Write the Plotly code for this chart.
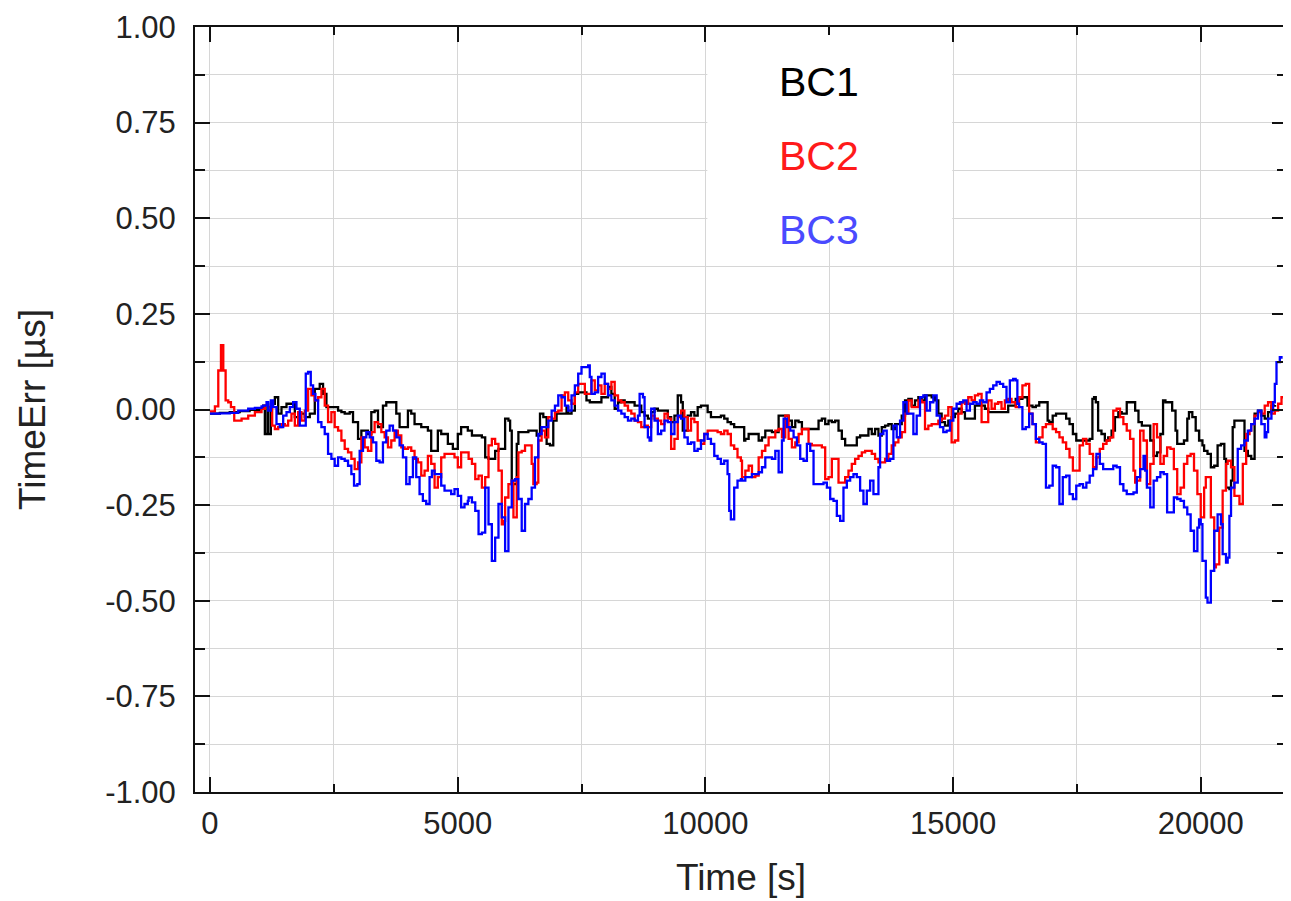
import plotly.graph_objects as go

# ---------------- data ----------------
bc1_t = [0, 200, 400, 600, 800, 1000, 1075, 1108, 1160, 1175, 1229, 1310, 1377, 1444, 1545, 1713, 1780, 1914, 2015,
         2116, 2216, 2283, 2351, 2518, 2586, 2653, 2720, 2821, 2888, 2989, 3056, 3190, 3257, 3324, 3392, 3492, 3559,
         3761, 3828, 3996, 4063, 4130, 4265, 4399, 4466, 4600, 4668, 4802, 4903, 5003, 5070, 5205,
         5288, 5489, 5556, 5623, 5757, 5824, 5958, 6025, 6059, 6092, 6193, 6226, 6427, 6595, 6662, 6729, 6796, 6863,
         6930, 6997, 7198, 7232, 7299, 7366, 7433, 7600, 7667, 7902, 8036, 8103, 8170, 8237, 8304, 8371, 8572, 8706,
         8773, 8840, 8907, 8974, 9041, 9242, 9309, 9376, 9443, 9510, 9544, 9644, 9711, 9778, 9845, 9912, 10046, 10113,
         10314, 10381, 10448, 10515, 10582, 10784,
         10807, 10874, 11076, 11143, 11210, 11344, 11479, 11680, 11747, 11815, 11882, 11949, 12285, 12352, 12419, 12486,
         12553, 12620, 12688, 12755, 12822, 13057, 13124, 13292, 13359, 13426, 13494, 13561, 13628, 13695, 13762, 13829,
         13964, 14031, 14098, 14165, 14232, 14300, 14367, 14434, 14568, 14635, 14703, 14770, 14837, 14904, 14971, 15038,
         15105, 15173, 15240, 15441, 15643, 15710, 16113,
         16264, 16400, 16502, 16604, 16672, 16740, 16909, 16943, 17011, 17079, 17283, 17351, 17419, 17487, 17758, 17813,
         17847, 17881, 17928, 17996, 18064, 18132, 18200, 18268, 18336, 18404, 18506, 18676, 18743, 18811, 18981, 19049,
         19117, 19185, 19239, 19287, 19423, 19491, 19525, 19661, 19728, 19762, 19830, 19898, 19966, 20034, 20068, 20136,
         20204, 20272, 20340, 20408, 20476, 20510, 20578, 20611, 20645, 20679, 20883, 20951, 21019, 21087, 21155, 21223,
         21291, 21359, 21427, 21500]
bc1_v = [-0.011, -0.009, -0.007, -0.004, -0.001, 0.003, 0.010, -0.064, 0.005, -0.064, 0.015, 0.032, -0.011, 0.006,
         0.015, -0.020, -0.011, -0.020, -0.011, 0.054, 0.067, 0.041, 0.006, 0.006, -0.003, -0.007, -0.011, -0.007,
         -0.033, -0.077, -0.055, -0.064, -0.007, -0.003, -0.046, 0.010, 0.019, -0.011, -0.046, -0.003, -0.011, -0.038,
         -0.046, -0.055, -0.108, -0.055, -0.064, -0.090, -0.103, -0.064, -0.046, -0.055,
         -0.068, -0.073, -0.125, -0.129, -0.108, -0.103, -0.024, -0.029, -0.055, -0.195, -0.090, -0.059, -0.055, -0.068,
         -0.011, -0.020, -0.090, -0.094, -0.029, -0.011, 0.006, -0.011, -0.003, 0.041, 0.045, 0.024, 0.019, 0.032,
         0.059, 0.041, 0.002, 0.019, 0.024, 0.019, 0.010, -0.007, -0.016, -0.024, -0.007, 0.002, -0.003, -0.020,
         -0.033, -0.016, 0.037, 0.019, -0.055, -0.016, -0.007, -0.016, 0.006, 0.010, -0.007, -0.020, -0.016, -0.024,
         -0.033, -0.038, -0.046, -0.081,
         -0.077, -0.064, -0.081, -0.073, -0.055, -0.059, -0.016, -0.029, -0.046, -0.029, -0.033, -0.051, -0.029, -0.024,
         -0.038, -0.029, -0.033, -0.029, -0.055, -0.077, -0.094, -0.073, -0.068, -0.051, -0.064, -0.051, -0.068, -0.046,
         -0.042, -0.038, -0.051, -0.038, -0.016, 0.024, 0.028, 0.010, 0.024, 0.032, 0.024, 0.037, 0.032, 0.024, -0.011,
         -0.033, -0.042, -0.029, -0.020, -0.011, 0.002, -0.007, -0.024, 0.010, 0.002, -0.007, 0.010,
         0.028, 0.032, 0.010, 0.006, 0.010, 0.019, -0.029, -0.033, -0.016, -0.011, -0.024, -0.038, -0.064, -0.081,
         -0.077, 0.028, 0.032, 0.019, -0.055, -0.064, -0.081, -0.073, -0.055, -0.020, -0.007, -0.011, 0.019, -0.003,
         -0.033, -0.042, -0.081, -0.121, -0.112, -0.064, 0.024, 0.019, -0.003, -0.055, -0.090, -0.081, -0.024, -0.007,
         -0.020, -0.055, -0.081, -0.094, -0.108, -0.116, -0.151, -0.147, -0.094, -0.090, -0.129, -0.204, -0.208,
         -0.186, -0.046, -0.029, -0.108, -0.121, -0.129, -0.011, -0.003, -0.016, -0.024, -0.007, 0.010, 0.012]

bc2_t = [0, 100, 168, 222, 269, 316, 369, 423, 490, 571, 638, 772, 907, 1041, 1108, 1175, 1256, 1310, 1377, 1444,
         1511, 1578, 1645, 1713, 1780, 1847, 1914, 1981, 2048, 2116, 2183, 2250, 2317, 2384, 2451, 2518, 2586, 2653,
         2720, 2787, 2854, 2921, 2989, 3056, 3123, 3190, 3257, 3324, 3392, 3459, 3526, 3593, 3660, 3727, 3794, 3862,
         3929, 3996, 4063, 4130, 4197, 4265, 4332, 4399, 4466, 4534, 4600, 4668, 4735, 4869, 4936, 5003, 5070, 5171,
         5221, 5288, 5355, 5422, 5489, 5556, 5623, 5690, 5757, 5824, 5891, 5925, 5958, 6025, 6092, 6126, 6159, 6193,
         6226, 6293, 6360, 6494, 6528, 6595, 6628, 6695, 6762, 6829, 6897, 6964, 7031, 7098, 7165, 7232, 7299, 7366,
         7433, 7567, 7634, 7701, 7768, 7835, 7902, 7969, 8036, 8103, 8170, 8237, 8304, 8371, 8438, 8505, 8572, 8639,
         8706, 8773, 8840, 8907, 8974, 9041, 9108, 9175, 9242, 9309, 9376, 9443, 9510, 9577, 9644, 9711, 9778, 9845,
         9912, 9979, 10046, 10247, 10314, 10381, 10448, 10515, 10582, 10649, 10717,
         10740, 10807, 10874, 10941, 11009, 11076, 11143, 11210, 11277, 11412, 11479, 11546, 11613, 11680, 11747, 11815,
         11882, 11949, 12083, 12150, 12352, 12419, 12486, 12553, 12688, 12822, 12889, 12956, 13023, 13091, 13158, 13225,
         13359, 13426, 13494, 13628, 13695, 13762, 13829, 13897, 13964, 14031, 14098, 14165, 14300, 14367, 14434, 14501,
         14568, 14703, 14770, 14837, 14904, 14971, 15038, 15105, 15173, 15240, 15307, 15374, 15441, 15508, 15576, 15643,
         15710, 15777, 15844, 15911, 15978, 16046, 16113, 16180,
         16264, 16332, 16400, 16468, 16536, 16604, 16672, 16740, 16807, 16875, 17011, 17079, 17147, 17215, 17283, 17351,
         17419, 17555, 17623, 17691, 17758, 17826, 17894, 17962, 18030, 18098, 18166, 18234, 18302, 18370, 18438, 18506,
         18574, 18642, 18676, 18709, 18777, 18845, 18913, 18981, 19049, 19117, 19185, 19253, 19321, 19389, 19457, 19525,
         19593, 19661, 19728, 19796, 19864, 19932, 20000, 20068, 20102, 20170, 20204, 20272, 20306, 20374, 20442, 20510,
         20544, 20611, 20679, 20781, 20849, 20917, 20985, 21019, 21087, 21155, 21223, 21291, 21359, 21427, 21495, 21562,
         21630, 21700]
bc2_v = [-0.005, 0.008, 0.102, 0.168, 0.102, 0.024, 0.019, 0.006, -0.029, -0.029, -0.024, -0.016, -0.007, 0.002, 0.010,
         0.006, -0.042, -0.051, -0.046, -0.038, -0.042, -0.029, -0.011, -0.042, -0.007, -0.029, -0.003, 0.054, 0.037,
         0.024, 0.032, 0.054, 0.010, -0.033, -0.007, -0.046, -0.055, -0.081, -0.103, -0.112, -0.129, -0.156, -0.138,
         -0.073, -0.099, -0.108, -0.059, -0.033, -0.038, -0.059, -0.073, -0.099, -0.081, -0.055, -0.068, -0.099, -0.103,
         -0.099, -0.108, -0.129, -0.138, -0.173, -0.160, -0.121, -0.142, -0.204, -0.177, -0.125, -0.116, -0.116, -0.125,
         -0.151, -0.112, -0.112,
         -0.129, -0.142, -0.182, -0.173, -0.204, -0.177, -0.094, -0.077, -0.090, -0.160, -0.300, -0.291, -0.230, -0.195,
         -0.186, -0.282, -0.282, -0.177, -0.112, -0.108, -0.094, -0.142, -0.195, -0.191, -0.081, -0.055, -0.073, -0.020,
         -0.024, -0.007, -0.003, 0.037, 0.045, 0.024, 0.015, 0.045, 0.067, 0.041, 0.041, 0.076, 0.050, 0.063, 0.041,
         0.067, 0.054, 0.072, 0.037, 0.024, 0.019, 0.010, -0.003, -0.011, -0.029, -0.033, -0.046, -0.042, -0.046,
         -0.016, -0.024, -0.029, -0.038, -0.011, -0.024, -0.103, -0.077, -0.020, -0.003, -0.020, -0.055, -0.024, -0.033,
         -0.081, -0.090, -0.064, -0.055, -0.059, -0.064, -0.055, -0.064, -0.094, -0.103, -0.125, -0.134,
         -0.177, -0.160, -0.147, -0.177, -0.173, -0.125, -0.108, -0.094, -0.073, -0.055, -0.051, -0.073, -0.016, -0.077,
         -0.099, -0.086, -0.064, -0.051, -0.090, -0.094, -0.099, -0.182, -0.177, -0.129, -0.191, -0.177, -0.160, -0.142,
         -0.129, -0.121, -0.112, -0.108, -0.116, -0.129, -0.138, -0.129, -0.116, -0.094, -0.086, -0.073, -0.059, -0.011,
         0.024, 0.006, 0.024, 0.019, -0.051, -0.042, -0.038, -0.029, -0.024, -0.016, 0.006, -0.086, -0.081, -0.011,
         0.019, 0.015, 0.032, 0.024, 0.037, 0.041, -0.033, -0.033, 0.024, 0.002, 0.015, 0.019, 0.002, 0.024, 0.028,
         0.019,
         0.006, 0.032, 0.063, 0.067, -0.011, -0.038, -0.086, -0.073, -0.046, -0.038, -0.051, -0.059, -0.073, -0.086,
         -0.103, -0.125, -0.160, -0.094, -0.077, -0.090, -0.116, -0.151, -0.125, -0.103, -0.090, -0.081, -0.073, -0.003,
         0.002, -0.020, -0.038, -0.055, -0.077, -0.160, -0.191, -0.186, -0.055, -0.081, -0.195, -0.142, -0.038, -0.073,
         -0.142, -0.121, -0.099, -0.103, -0.156, -0.221, -0.204, -0.142, -0.121, -0.116, -0.160, -0.221, -0.282, -0.204,
         -0.177, -0.177, -0.282, -0.413, -0.405, -0.309, -0.212, -0.142, -0.134, -0.151, -0.226, -0.247, -0.142, -0.064,
         -0.055, -0.038, -0.016, -0.007, -0.011, 0.010, 0.019, -0.011, -0.003, 0.015, 0.032, 0.035]

bc3_t = [0, 200, 400, 571, 772, 907, 1041, 1075, 1142, 1175, 1229, 1276, 1343, 1410, 1478, 1545, 1612, 1679, 1746,
         1813, 1880, 1934, 1981, 2035, 2082, 2129, 2183, 2250, 2317, 2384, 2451, 2518, 2586, 2653, 2720, 2787, 2854,
         2908, 2975, 3022, 3089, 3156, 3224, 3291, 3358, 3425, 3492, 3559, 3627, 3694, 3761, 3828, 3895, 3962, 4030,
         4097, 4164, 4231, 4298, 4365, 4433, 4480, 4534, 4668, 4735, 4869, 4936, 5003, 5070, 5138, 5205,
         5221, 5288, 5355, 5422, 5489, 5556, 5623, 5690, 5757, 5824, 5891, 5958, 6025, 6092, 6159, 6226, 6293, 6360,
         6427, 6494, 6561, 6628, 6695, 6829, 6897, 6964, 7031, 7098, 7165, 7232, 7299, 7366, 7433, 7500, 7634, 7667,
         7701, 7768, 7835, 7902, 7969, 8036, 8103, 8170, 8237, 8304, 8371, 8438, 8505, 8572, 8639, 8673, 8740, 8773,
         8840, 8874, 8907, 8974, 9041, 9108, 9175, 9242, 9309, 9376, 9443, 9510, 9577, 9644, 9711, 9778, 9845, 9912,
         9979, 10046, 10113, 10180, 10247, 10314, 10381, 10448, 10482, 10515, 10582, 10649, 10717,
         10740, 10807, 10941, 11076, 11143, 11210, 11344, 11412, 11479, 11546, 11580, 11647, 11714, 11781, 11848, 11915,
         11982, 12050, 12117, 12184, 12385, 12453, 12520, 12587, 12654, 12721, 12788, 12856, 12923, 12990, 13057, 13124,
         13191, 13259, 13326, 13393, 13494, 13527, 13594, 13661, 13729, 13796, 13863, 13930, 13997, 14064, 14199, 14266,
         14333, 14400, 14467, 14535, 14602, 14669, 14736, 14803, 14870, 14938, 15005, 15072, 15139, 15206, 15273, 15340,
         15408, 15475, 15542, 15609, 15676, 15743, 15811, 15878, 15945, 16012, 16079, 16146, 16214,
         16264, 16298, 16332, 16400, 16468, 16536, 16604, 16672, 16740, 16807, 16875, 16943, 17011, 17079, 17147, 17215,
         17283, 17351, 17419, 17487, 17555, 17623, 17691, 17758, 17826, 17894, 17962, 18030, 18234, 18302, 18370, 18438,
         18506, 18642, 18709, 18777, 18845, 18879, 18913, 18981, 19049, 19117, 19185, 19253, 19321, 19389, 19457, 19525,
         19593, 19661, 19728, 19796, 19864, 19932, 19966, 20000, 20034, 20102, 20136, 20204, 20272, 20340, 20408, 20442,
         20510, 20544, 20578, 20611, 20679, 20747, 20815, 20883, 20951, 21019, 21087, 21155, 21223, 21291, 21325, 21359,
         21427, 21461, 21495, 21529, 21596, 21630]
bc3_v = [-0.011, -0.010, -0.009, -0.003, 0.002, 0.004, 0.008, 0.010, 0.019, -0.003, 0.024, 0.006, -0.038, -0.046,
         -0.016, -0.007, 0.006, 0.019, 0.002, -0.042, -0.042, 0.094, 0.098, 0.063, 0.041, 0.024, -0.033, -0.046,
         -0.064, -0.116, -0.129, -0.147, -0.125, -0.129, -0.134, -0.147, -0.169, -0.199, -0.195, -0.108, -0.073,
         -0.059, -0.073, -0.086, -0.134, -0.138, -0.086, -0.055, -0.042, -0.055, -0.073, -0.094, -0.125, -0.195,
         -0.177, -0.125, -0.177, -0.221, -0.239, -0.247, -0.177, -0.160, -0.169, -0.199, -0.212, -0.221, -0.208,
         -0.226, -0.256, -0.247, -0.239,
         -0.230, -0.243, -0.265, -0.326, -0.322, -0.204, -0.300, -0.396, -0.335, -0.247, -0.282, -0.370, -0.256, -0.186,
         -0.182, -0.234, -0.317, -0.247, -0.234, -0.204, -0.125, -0.064, -0.046, -0.029, -0.003, 0.010, 0.037, 0.032,
         0.010, -0.003, 0.037, 0.063, 0.094, 0.111, 0.115, 0.085, 0.041, 0.045, 0.085, 0.094, 0.067, 0.037, 0.024,
         0.010, -0.003, -0.011, -0.020, -0.029, -0.024, -0.029, -0.016, 0.041, 0.032, -0.046, -0.073, -0.081, 0.002,
         -0.029, -0.064, -0.055, -0.029, -0.033, -0.064, -0.033, -0.016, -0.024, -0.073, -0.090, -0.086, -0.108,
         -0.103, -0.081, -0.064, -0.077, -0.090, -0.121, -0.129, -0.142, -0.134, -0.169, -0.265, -0.287, -0.204,
         -0.186, -0.182,
         -0.186, -0.177, -0.169, -0.164, -0.151, -0.125, -0.129, -0.108, -0.164, -0.081, -0.024, -0.046, -0.055, -0.073,
         -0.094, -0.129, -0.134, -0.090, -0.108, -0.195, -0.191, -0.204, -0.234, -0.239, -0.278, -0.291, -0.204, -0.186,
         -0.177, -0.169, -0.177, -0.212, -0.247, -0.212, -0.186, -0.221, -0.151, -0.064, -0.055, -0.134, -0.129, -0.042,
         -0.073, -0.029, 0.019, -0.011, -0.064, -0.016, 0.032, 0.037, -0.003, 0.019, 0.037, -0.016, -0.046, -0.059,
         -0.055, -0.029, 0.002, 0.015, 0.019, 0.024, -0.003, 0.015, 0.019, 0.015, 0.024, 0.019, 0.045, 0.054, 0.063,
         0.072, 0.067, 0.059, 0.019, 0.076, 0.080,
         0.076, 0.015, 0.006, -0.051, -0.046, -0.011, -0.038, -0.077, -0.086, -0.090, -0.204, -0.199, -0.147, -0.151,
         -0.247, -0.177, -0.173, -0.221, -0.234, -0.199, -0.195, -0.204, -0.191, -0.173, -0.156, -0.116, -0.142, -0.156,
         -0.147, -0.151, -0.195, -0.212, -0.221, -0.217, -0.177, -0.156, -0.121, -0.160, -0.204, -0.256, -0.186, -0.177,
         -0.164, -0.169, -0.269, -0.269, -0.230, -0.234, -0.239, -0.256, -0.274, -0.317, -0.370, -0.309, -0.287, -0.300,
         -0.396, -0.492, -0.505, -0.422, -0.317, -0.274, -0.300, -0.378, -0.400, -0.387, -0.278, -0.204, -0.191, -0.103,
         -0.094, -0.081, -0.055, -0.038, -0.024, -0.003, -0.038, -0.073, -0.059, -0.024, -0.003, 0.019, 0.067, 0.124,
         0.137, 0.133]

series_names = ["BC1", "BC2", "BC3"]
series_colors = ["#000000", "#ff0000", "#0000ff"]
label_colors = ["#000000", "#ff1a1a", "#4a4aff"]

x_tickvals = [0, 5000, 10000, 15000, 20000]
x_ticktext = ["0", "5000", "10000", "15000", "20000"]
y_tickvals = [1.0, 0.75, 0.5, 0.25, 0.0, -0.25, -0.5, -0.75, -1.0]
y_ticktext = ["1.00", "0.75", "0.50", "0.25", "0.00", "-0.25", "-0.50", "-0.75", "-1.00"]

# ---------------- figure ----------------
FONT = "Arial, 'Liberation Sans', sans-serif"
fig = go.Figure()
for t, v, name, col in zip([bc1_t, bc2_t, bc3_t], [bc1_v, bc2_v, bc3_v], series_names, series_colors):
    fig.add_trace(go.Scatter(x=t, y=v, name=name, mode="lines", line=dict(color=col, width=2.3, shape="hv"),
                             showlegend=False))

grid_col = "#d6d6d6"
fig.update_xaxes(range=[-302, 21741], tickvals=x_tickvals, ticktext=x_ticktext,
                 showline=True, linecolor="#111", linewidth=2, mirror="ticks",
                 ticks="inside", ticklen=15, tickwidth=2, tickcolor="#111",
                 showgrid=True, gridcolor=grid_col, gridwidth=1, zeroline=False,
                 minor=dict(tickvals=[2500, 7500, 12500, 17500], ticks="inside", ticklen=8, tickwidth=2,
                            tickcolor="#111", showgrid=True, gridcolor=grid_col, gridwidth=1),
                 tickfont=dict(family=FONT, size=31, color="#222"), ticklabelstandoff=3,
                 ticklabeloverflow="allow",
                 title=dict(text="Time [s]", font=dict(family=FONT, size=37, color="#222"), standoff=24))
fig.update_yaxes(range=[-1, 1], tickvals=y_tickvals, ticktext=y_ticktext,
                 showline=True, linecolor="#111", linewidth=2, mirror="ticks",
                 ticks="inside", ticklen=15, tickwidth=2, tickcolor="#111",
                 showgrid=True, gridcolor=grid_col, gridwidth=1, zeroline=False,
                 minor=dict(dtick=0.125, tick0=0, ticks="inside", ticklen=10, tickwidth=2, tickcolor="#111",
                            showgrid=True, gridcolor=grid_col, gridwidth=1),
                 tickfont=dict(family=FONT, size=31, color="#222"), ticklabelstandoff=11,
                 ticklabeloverflow="allow",
                 title=dict(text="TimeErr [µs]", font=dict(family=FONT, size=37, color="#222"), standoff=48))

# white legend panel hiding the grid, with coloured series names
fig.add_shape(type="rect", xref="x", yref="y", x0=10040, x1=14985, y0=0.44, y1=1.0,
              fillcolor="white", line=dict(width=0), layer="between")
legend_y = [0.855, 0.662, 0.470]
for name, col, yv in zip(series_names, label_colors, legend_y):
    fig.add_annotation(x=11445, y=yv, xref="x", yref="y", text=name, showarrow=False, xanchor="left",
                       yanchor="middle", font=dict(family=FONT, size=41, color=col))

# the page body has an 8 px margin, so the figure is 8 px smaller and shifted
fig.update_layout(width=1283, height=893, margin=dict(l=187, r=2, t=16, b=109),
                  plot_bgcolor="white", paper_bgcolor="white", showlegend=False)

fig.write_html("out.html")
